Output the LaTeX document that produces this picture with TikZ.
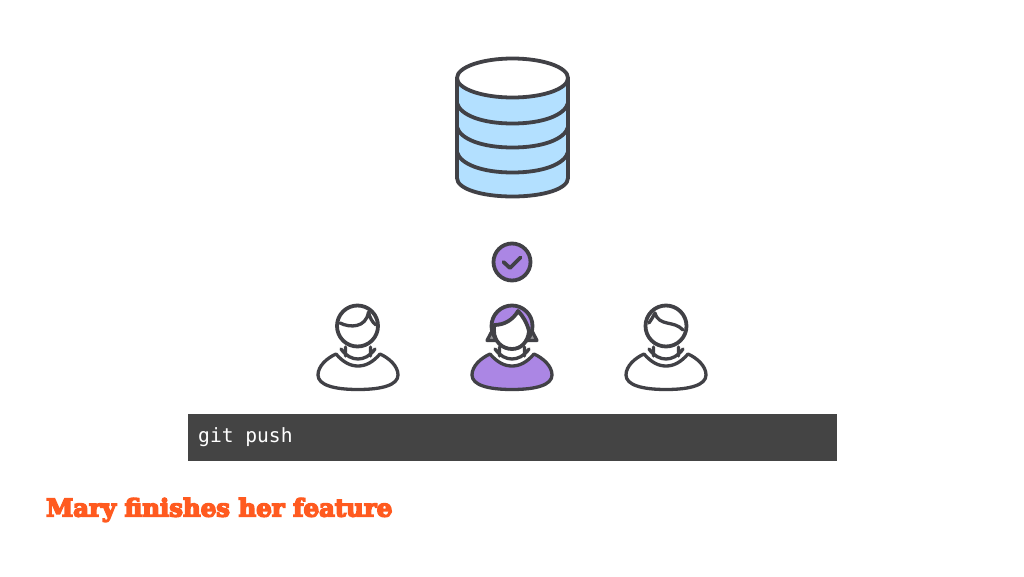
\documentclass[tikz,border=0pt]{standalone}
\usepackage{fontspec}
\usepackage{graphicx}
\setmonofont{DejaVu Sans Mono}
\newfontfamily\titlefont[FakeBold=6]{DejaVu Serif Bold}
\definecolor{ink}{HTML}{414146}
\definecolor{dbblue}{HTML}{B3E0FF}
\definecolor{mauve}{HTML}{AB86E4}
\definecolor{barcol}{HTML}{444444}
\definecolor{orangered}{HTML}{FF5A1F}
\tikzset{
  outline/.style={draw=ink,line width=3.8pt,line join=round,line cap=round},
  thin outline/.style={draw=ink,line width=3.3pt,line join=round,line cap=round},
  cmdbar/.style={fill=barcol,draw=none,minimum width=649pt,minimum height=47pt,inner sep=0pt},
  cmdtext/.style={text=white,font=\ttfamily\fontsize{19.6}{20}\selectfont,inner sep=0pt,anchor=base west},
  caption/.style={text=orangered,inner sep=0pt,anchor=base west},
  pics/torso/.style={code={
    % body
    \path[thin outline,fill=#1] (-22,354) .. controls (-15,362) and (-8,366) .. (0,366)
      .. controls (8,366) and (15,362) .. (22,354)
      .. controls (31,358) and (40,366) .. (40,375)
      .. controls (40,385) and (24,389.5) .. (0,389.5)
      .. controls (-24,389.5) and (-40,385) .. (-40,375)
      .. controls (-40,366) and (-31,358) .. (-22,354) -- cycle;
    % neck and collar
    \path[thin outline] (-12.5,347) -- (-12.5,356) (12.5,347) -- (12.5,356)
      (-17,349) .. controls (-12,356) and (-6,359) .. (0,359)
      .. controls (6,359) and (12,356) .. (17,349);
  }}
}
\begin{document}
\begin{tikzpicture}[x=1pt,y=-1pt]
\useasboundingbox (0,0) rectangle (1024,576);
\fill[white] (0,0) rectangle (1024,576);

% database
\path[fill=dbblue] (457,78) -- (457,178) .. controls (457,189) and (482,196.5) .. (512.5,196.5)
  .. controls (543,196.5) and (568,189) .. (568,178) -- (568,78) -- cycle;
\draw[outline] (457,78) -- (457,178) .. controls (457,189) and (482,196.5) .. (512.5,196.5)
  .. controls (543,196.5) and (568,189) .. (568,178) -- (568,78);
\foreach \yy in {103,127,152}{
  \draw[outline] (457,\yy) .. controls (460,\yy+12) and (482,\yy+20.5) .. (512.5,\yy+20.5)
    .. controls (543,\yy+20.5) and (565,\yy+12) .. (568,\yy);
}
\path[outline,fill=white] (512.5,78) ellipse [x radius=55.5,y radius=19.5];

% check badge
\path[outline,fill=mauve] (512,262) circle [radius=18.5];
\draw[outline] (503.5,262) -- (510,268) -- (520.5,257.5);

% left person
\begin{scope}[shift={(358,0)}]
  \pic {torso=white};
  \path[outline,fill=white] (-0.5,326) circle [radius=20.5];
  \draw[thin outline] (-18,323) .. controls (-8,328) and (8,328) .. (10.5,312)
    (10.5,312) .. controls (12,318) and (14,322) .. (18,325);
\end{scope}

% middle person (Mary)
\begin{scope}[shift={(512,0)}]
  \pic {torso=mauve};
  \path[thin outline,fill=ink!55] (-20,331) -- (-25,340.5) -- (-14,340.5) -- cycle;
  \path[thin outline,fill=ink!55] (20,331) -- (25,340.5) -- (14,340.5) -- cycle;
  \path[outline,fill=mauve] (0,326) circle [radius=20.5];
  \path[outline,fill=white] (-18,325) .. controls (-8,325) and (1,320) .. (6,311)
     .. controls (11,316) and (15,323) .. (17,331)
     .. controls (16,342) and (9,349) .. (0,349)
     .. controls (-10,349) and (-18,341) .. (-18,331) -- cycle;
\end{scope}

% right person
\begin{scope}[shift={(666,0)}]
  \pic {torso=white};
  \path[outline,fill=white] (0,326) circle [radius=20.5];
  \draw[thin outline] (-11,313) .. controls (-7,327) and (8,320) .. (17,330)
    (-11,313) .. controls (-13,317) and (-15,320) .. (-17,323);
\end{scope}

% command bar
\node[cmdbar,anchor=north west] (bar) at (187.5,413.5) {};
\node[cmdtext] (cmd) at (198,442) {git push};

% caption
\node[caption] (title) at (46,516.5) {\resizebox{346pt}{!}{\titlefont Mary finishes her feature}};
\end{tikzpicture}
\end{document}
